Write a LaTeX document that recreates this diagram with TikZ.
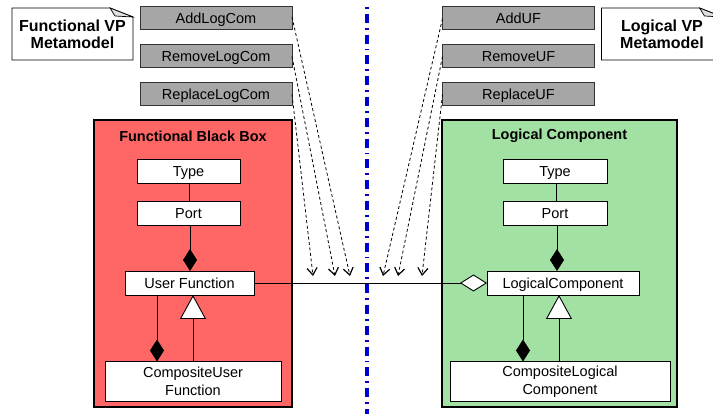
\documentclass[tikz,border=0pt]{standalone}
\usepackage{fontspec}
\setmainfont{Liberation Sans}
\usetikzlibrary{arrows.meta}
\definecolor{boxred}{HTML}{FF6666}
\definecolor{boxgreen}{HTML}{A3E0A3}
\definecolor{opgray}{HTML}{A6A6A6}
\definecolor{sepblue}{HTML}{0000CC}
\begin{document}
\begin{tikzpicture}[x=1pt,y=-1pt,
  every node/.style={inner sep=0pt,outer sep=0pt,font=\fontsize{14.5}{17}\selectfont},
  cls/.style={draw=black,fill=white,line width=0.9pt,anchor=center},
  oneline/.style={text height=10.5pt,text depth=0pt},
  op/.style={draw=black!80,fill=opgray,line width=1pt,minimum width=152pt,minimum height=23pt,anchor=center,text height=10.5pt,text depth=0pt},
  pkg/.style={draw=black,line width=2.6pt,anchor=center},
  pkgtitle/.style={font=\fontsize{14.5}{17}\selectfont\bfseries,anchor=center},
  notebox/.style={minimum width=121pt,minimum height=52pt,anchor=center,align=center,font=\fontsize{16}{17}\selectfont\bfseries},
  link/.style={line width=0.9pt},
  comp/.style={link,-{Diamond[length=22pt,width=14pt,fill=black]}},
  agg/.style={link,-{Diamond[length=27pt,width=17pt,fill=white]}},
  gen/.style={link,-{Triangle[length=24pt,width=26pt,fill=white]}},
  dep/.style={line width=0.8pt,dash pattern=on 3pt off 2.5pt,-{Straight Barb[length=7pt,width=10pt,line width=1.2pt]}}
]
\clip (0,0) rectangle (713,414);
\fill[white] (0,0) rectangle (713,414);

% separator
\coordinate (septop) at (367,7);
\coordinate (sepbot) at (367,414);
\draw[sepblue,line width=3.2pt,dash pattern=on 1.8pt off 5pt on 9pt off 5pt] (septop) -- (sepbot);

% packages
\node[pkg,fill=boxred,minimum width=198pt,minimum height=287pt] (fbb) at (193,263.5) {};
\node[pkg,fill=boxgreen,minimum width=235pt,minimum height=287pt] (lcp) at (559.5,263.5) {};
\node[pkgtitle] (fbbt) at (193,136) {Functional Black Box};
\node[pkgtitle] (lcpt) at (559.5,136) {Logical Component};

% notes
\node[notebox] (n1) at (72.5,34) {Functional VP\\Metamodel};
\draw[line width=0.9pt,fill=white] (n1.north west) -- ([xshift=-23pt]n1.north east) -- ([yshift=-9pt]n1.north east) -- (n1.south east) -- (n1.south west) -- cycle;
\draw[line width=0.7pt,fill=black!12] ([xshift=-23pt]n1.north east) -- ([xshift=-18pt,yshift=-8pt]n1.north east) -- ([yshift=-9pt]n1.north east) -- cycle;
\node[notebox] (n1t) at (72.5,34) {Functional VP\\Metamodel};

\node[notebox] (n2) at (662,34) {Logical VP\\Metamodel};
\draw[line width=0.9pt,fill=white] (n2.north west) -- ([xshift=-23pt]n2.north east) -- ([yshift=-9pt]n2.north east) -- (n2.south east) -- (n2.south west) -- cycle;
\draw[line width=0.7pt,fill=black!12] ([xshift=-23pt]n2.north east) -- ([xshift=-18pt,yshift=-8pt]n2.north east) -- ([yshift=-9pt]n2.north east) -- cycle;
\node[notebox] (n2t) at (662,34) {Logical VP\\Metamodel};

% operations
\node[op] (addlc) at (216,18.5) {AddLogCom};
\node[op] (remlc) at (216,56.5) {RemoveLogCom};
\node[op] (replc) at (216,94.5) {ReplaceLogCom};
\node[op] (adduf) at (518.5,18.5) {AddUF};
\node[op] (remuf) at (518.5,56.5) {RemoveUF};
\node[op] (repuf) at (518.5,94.5) {ReplaceUF};

% left classes
\node[cls,oneline,minimum width=103pt,minimum height=24pt] (ltype) at (188.5,171) {Type};
\node[cls,oneline,minimum width=103pt,minimum height=24pt] (lport) at (188.5,213) {Port};
\node[cls,oneline,minimum width=129pt,minimum height=24pt] (uf) at (189.5,283) {User Function};
\node[cls,minimum width=176pt,minimum height=40pt,align=center,font=\fontsize{14.5}{18}\selectfont] (cuf) at (193,381.5) {CompositeUser\\Function};

% right classes
\node[cls,oneline,minimum width=104pt,minimum height=24pt] (rtype) at (555,171) {Type};
\node[cls,oneline,minimum width=104pt,minimum height=24pt] (rport) at (555,213) {Port};
\node[cls,oneline,minimum width=152pt,minimum height=24pt] (lc) at (563,283) {LogicalComponent};
\node[cls,minimum width=220pt,minimum height=40pt,align=center,font=\fontsize{14.5}{18}\selectfont] (clc) at (560,381.5) {CompositeLogical\\Component};

% left relations
\draw[link] (ltype.south -| 189,0) -- (lport.north -| 189,0);
\draw[comp] (lport.south -| 190,0) -- (uf.north -| 190,0);
\draw[comp] (uf.south -| 157,0) -- (cuf.north -| 157,0);
\draw[gen] (cuf.north -| 193,0) -- (uf.south -| 193,0);

% right relations
\draw[link] (rtype.south -| 556,0) -- (rport.north -| 556,0);
\draw[comp] (rport.south -| 557,0) -- (lc.north -| 557,0);
\draw[comp] (lc.south -| 523,0) -- (clc.north -| 523,0);
\draw[gen] (clc.north -| 559,0) -- (lc.south -| 559,0);

% cross link
\draw[agg] (uf.east) -- (lc.west);

% dependency arrows
\coordinate (d1) at (350,276);
\coordinate (d2) at (335,276);
\coordinate (d3) at (313,276);
\coordinate (d4) at (383,276);
\coordinate (d5) at (398,276);
\coordinate (d6) at (422,276);
\draw[dep] ([yshift=1.5pt]addlc.east) -- (d1);
\draw[dep] (remlc.east) -- (d2);
\draw[dep] (replc.east) -- (d3);
\draw[dep] (adduf.west) -- (d4);
\draw[dep] (remuf.west) -- (d5);
\draw[dep] (repuf.west) -- (d6);
\end{tikzpicture}
\end{document}
